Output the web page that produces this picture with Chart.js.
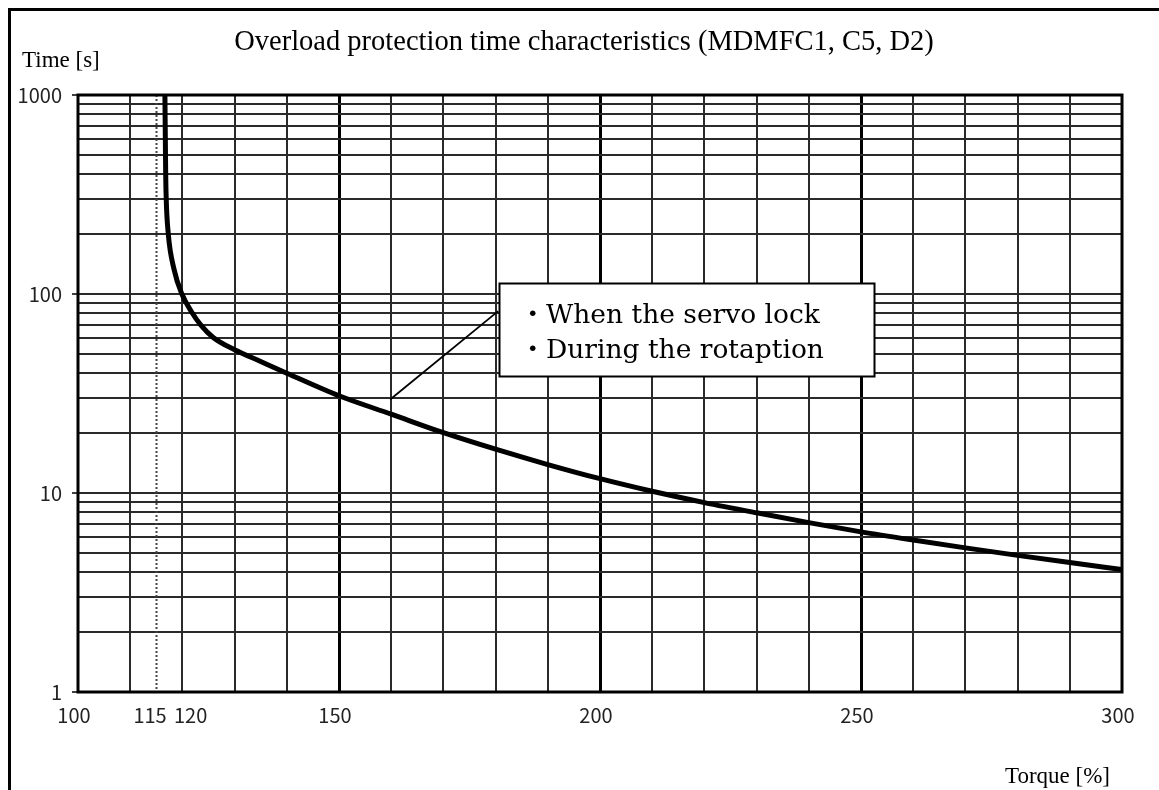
<!DOCTYPE html>
<html>
<head>
<meta charset="utf-8">
<script src="https://cdn.jsdelivr.net/npm/chart.js@4/dist/chart.umd.min.js"></script>
<style>
  html, body { margin: 0; padding: 0; background: #fff; }
  #wrap { position: relative; width: 1159px; height: 790px; }
</style>
</head>
<body>
<div id="wrap"><canvas id="c" width="1159" height="790"></canvas></div>
<script>
// ---- data ----
const torquePct = [116.65, 116.8, 116.9, 117.3, 118.4, 119.9, 121.8, 123.5, 125.9, 130, 135, 140, 150, 160, 170, 180, 190, 200, 210, 220, 230, 240, 250, 260, 270, 280, 290, 300];
const timeSec   = [1000, 400, 300, 200, 133, 100, 81, 70, 60.5, 52.5, 45.8, 40, 30.8, 24.9, 20.1, 16.6, 13.9, 11.8, 10.2, 8.95, 7.95, 7.1, 6.38, 5.8, 5.3, 4.86, 4.47, 4.12];
const xGridValues = [100, 110, 115, 120, 130, 140, 150, 160, 170, 180, 190, 200, 210, 220, 230, 240, 250, 260, 270, 280, 290, 300];
const xLabelValues = [100, 115, 120, 150, 200, 250, 300];
const xMajorValues = [150, 200, 250];
const limitTorque = 115;
const yDecades = [1, 10, 100, 1000];
const titleText = 'Overload protection time characteristics (MDMFC1, C5, D2)';
const yAxisTitle = 'Time [s]';
const xAxisTitle = 'Torque [%]';
const noteLines = ['・When the servo lock', '・During the rotaption'];
// annotation anchors (data coordinates)
const noteBox = { x1: 180.65, y1: 113, x2: 252.5, y2: 38.5 };
const noteLeader = { fromX: 180.5, fromY: 82, toX: 159.8, toY: 29.5 };

// y minor grid values (log decades)
const yGridValues = [];
for (let d = 1; d < 1000; d *= 10) {
  for (let k = 1; k < 10; k++) yGridValues.push(k * d);
}
yGridValues.push(1000);

const points = torquePct.map((t, i) => ({ x: t, y: timeSec[i] }));

const decorPlugin = {
  id: 'decor',
  beforeDraw(chart) {
    const ctx = chart.ctx;
    ctx.save();
    ctx.fillStyle = '#fff';
    ctx.fillRect(0, 0, chart.width, chart.height);
    // outer frame (cut by the image on right and bottom)
    ctx.strokeStyle = '#000';
    ctx.lineWidth = 3;
    ctx.beginPath();
    ctx.moveTo(9.5, chart.height + 5);
    ctx.lineTo(9.5, 9.5);
    ctx.lineTo(chart.width + 5, 9.5);
    ctx.stroke();
    ctx.restore();
  },
  beforeDatasetsDraw(chart) {
    const ctx = chart.ctx, a = chart.chartArea, xs = chart.scales.x;
    const px = Math.round(xs.getPixelForValue(limitTorque)) + 0.5;
    ctx.save();
    ctx.strokeStyle = '#444';
    ctx.lineWidth = 2;
    ctx.setLineDash([2, 2]);
    ctx.beginPath();
    ctx.moveTo(px, a.top);
    ctx.lineTo(px, a.bottom);
    ctx.stroke();
    ctx.restore();
  },
  afterDatasetsDraw(chart) {
    const ctx = chart.ctx, a = chart.chartArea, xs = chart.scales.x, ys = chart.scales.y;
    ctx.save();
    // plot frame
    ctx.strokeStyle = '#000';
    ctx.lineWidth = 3;
    ctx.strokeRect(a.left, a.top, a.right - a.left, a.bottom - a.top);

    // title and axis titles
    ctx.fillStyle = '#000';
    ctx.textBaseline = 'alphabetic';
    ctx.font = '28.5px "Liberation Serif", "Times New Roman", serif';
    ctx.textAlign = 'center';
    ctx.fillText(titleText, 584, 50);
    ctx.font = '23px "Liberation Serif", "Times New Roman", serif';
    ctx.textAlign = 'left';
    ctx.fillText(yAxisTitle, 22, 67);
    ctx.textAlign = 'right';
    ctx.fillText(xAxisTitle, 1110, 783);

    // leader line
    ctx.strokeStyle = '#000';
    ctx.lineWidth = 1.8;
    ctx.beginPath();
    ctx.moveTo(xs.getPixelForValue(noteLeader.fromX), ys.getPixelForValue(noteLeader.fromY));
    ctx.lineTo(xs.getPixelForValue(noteLeader.toX), ys.getPixelForValue(noteLeader.toY));
    ctx.stroke();

    // annotation box
    const bx1 = Math.round(xs.getPixelForValue(noteBox.x1)) + 0.5;
    const by1 = Math.round(ys.getPixelForValue(noteBox.y1)) + 0.5;
    const bx2 = Math.round(xs.getPixelForValue(noteBox.x2)) + 0.5;
    const by2 = Math.round(ys.getPixelForValue(noteBox.y2)) + 0.5;
    ctx.fillStyle = '#fff';
    ctx.fillRect(bx1, by1, bx2 - bx1, by2 - by1);
    ctx.lineWidth = 2;
    ctx.strokeRect(bx1, by1, bx2 - bx1, by2 - by1);
    ctx.fillStyle = '#000';
    ctx.textAlign = 'left';
    ctx.font = '26.5px "DejaVu Serif", "Noto Sans CJK JP", serif';
    ctx.fillText(noteLines[0], bx1 + 20, by1 + 39);
    ctx.fillText(noteLines[1], bx1 + 20, by1 + 74);
    ctx.restore();
  }
};

new Chart(document.getElementById('c'), {
  type: 'line',
  data: {
    datasets: [{
      data: points,
      borderColor: '#000',
      borderWidth: 5,
      pointRadius: 0,
      fill: false,
      cubicInterpolationMode: 'monotone'
    }]
  },
  options: {
    responsive: false,
    animation: false,
    devicePixelRatio: 1,
    layout: { padding: { top: 95, right: 37, bottom: 0, left: 0 } },
    plugins: { legend: { display: false }, title: { display: false }, tooltip: { enabled: false } },
    scales: {
      x: {
        type: 'linear',
        min: 100,
        max: 300,
        afterBuildTicks(scale) { scale.ticks = xGridValues.map(v => ({ value: v })); },
        afterFit(scale) { scale.height = 98; },
        border: { display: false },
        grid: {
          drawTicks: false,
          color: c => (c.tick && c.tick.value === limitTorque) ? 'rgba(0,0,0,0)'
            : (c.tick && xMajorValues.includes(c.tick.value)) ? '#000' : '#2a2a2a',
          lineWidth: c => (c.tick && xMajorValues.includes(c.tick.value)) ? 3 : 2
        },
        ticks: {
          autoSkip: false,
          maxRotation: 0,
          minRotation: 0,
          padding: 11,
          labelOffset: -4,
          color: '#222',
          font: { family: '"Noto Sans CJK JP", "DejaVu Sans Mono", monospace', size: 20 },
          callback: v => {
            if (!xLabelValues.includes(v)) return '';
            if (v === 115) return '115 ';
            if (v === 120) return '\u3000 120';
            return String(v);
          }
        }
      },
      y: {
        type: 'logarithmic',
        min: 1,
        max: 1000,
        afterBuildTicks(scale) { scale.ticks = yGridValues.map(v => ({ value: v, major: yDecades.includes(v) })); },
        afterFit(scale) { scale.width = 78; },
        border: { display: false },
        grid: {
          drawTicks: true,
          tickLength: 6,
          tickWidth: 1.5,
          tickColor: c => (c.tick && yDecades.includes(c.tick.value)) ? '#000' : 'rgba(0,0,0,0)',
          color: '#2a2a2a',
          lineWidth: 2
        },
        ticks: {
          autoSkip: false,
          padding: 10,
          color: '#222',
          font: { family: '"Noto Sans CJK JP", "DejaVu Sans Mono", monospace', size: 20 },
          callback: v => yDecades.includes(v) ? String(v) : ''
        }
      }
    }
  },
  plugins: [decorPlugin]
});
</script>
</body>
</html>
